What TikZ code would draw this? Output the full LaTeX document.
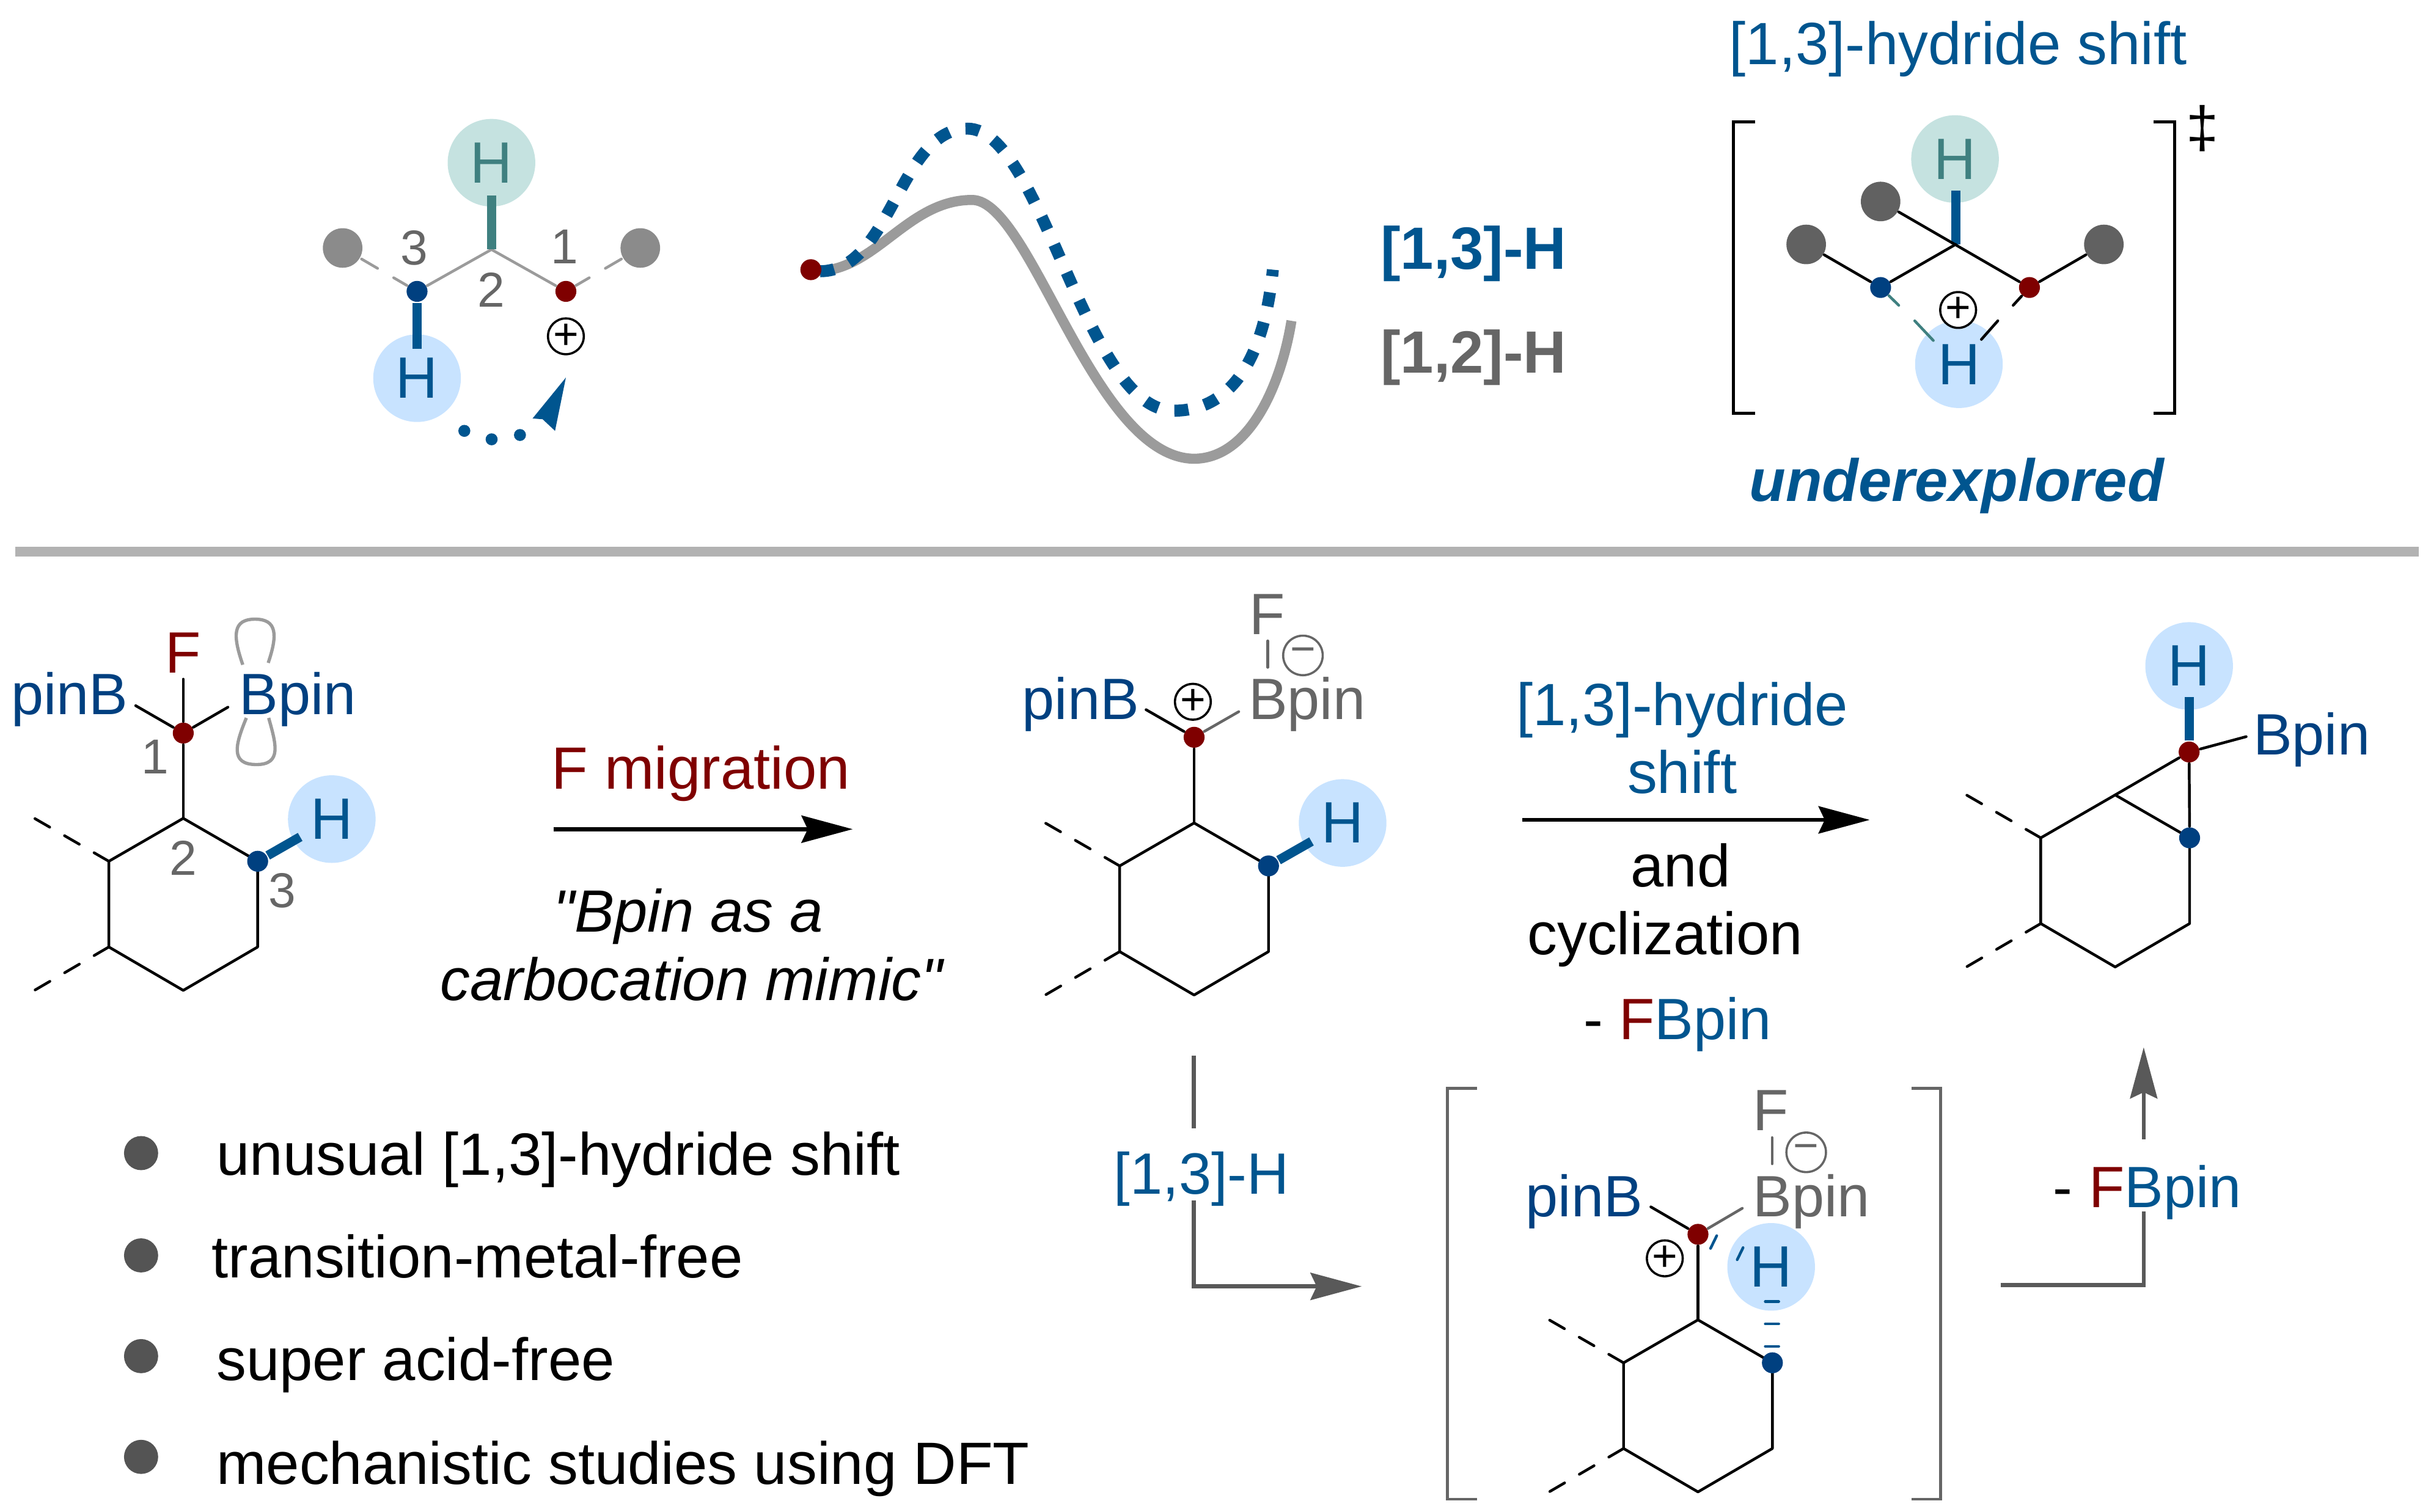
\documentclass[tikz,border=0pt]{standalone}
\usepackage{fontspec}
\setmainfont{Liberation Sans}[Ligatures=TeXOff]
\usetikzlibrary{calc,arrows.meta}
\definecolor{myblue}{HTML}{00558F}
\definecolor{mynavy}{HTML}{004080}
\definecolor{myred}{HTML}{7F0000}
\definecolor{myteal}{HTML}{3F8080}
\definecolor{mygray}{HTML}{666666}
\definecolor{softgray}{HTML}{9B9B9B}
\definecolor{bubbleblue}{HTML}{C8E3FF}
\definecolor{bubbleteal}{HTML}{C5E2E0}
\newcommand{\labfont}{\fontsize{10.95}{12}\selectfont}
\tikzset{
 bond/.style={line width=0.5pt,line cap=round,line join=round},
 dashbond/.style={bond,dash pattern=on 0.11cm off 0.11cm},
 thickbond/.style={line width=1.7pt},
 hatch/.style={line width=0.5pt,line cap=round,color=myblue},
 txt/.style={inner sep=0pt,anchor=base,yshift=-0.01cm},
 lab/.style={txt,font=\labfont},
 num/.style={inner sep=0pt,color=mygray,font=\fontsize{9}{9}\selectfont},
 atomred/.style={circle,fill=myred,inner sep=0pt,minimum size=0.135cm},
 atomblue/.style={circle,fill=mynavy,inner sep=0pt,minimum size=0.135cm},
 subst/.style={circle,inner sep=0pt,minimum size=0.255cm},
 bubble/.style={circle,inner sep=0pt,minimum size=0.565cm},
 hblue/.style={bubble,fill=bubbleblue,text=myblue},
 hteal/.style={bubble,fill=bubbleteal,text=myteal},
 charge/.style={circle,draw,fill=white,line width=0.4pt,inner sep=0pt,minimum size=0.23cm,font=\fontsize{8}{8}\selectfont},
 bullet/.style={circle,fill=black!67,inner sep=0pt,minimum size=0.22cm},
 rxnline/.style={line width=0.75pt,line join=miter},
 rxn/.style={rxnline,-{Stealth[length=0.33cm,width=0.175cm,inset=0.04cm]}},
 brak/.style={line width=0.55pt,line join=miter},
}
\newcommand{\ringbonds}[3]{
\coordinate (#1a) at (#2,#3); \coordinate (#1b) at (#2-48,#3+27.7); \coordinate (#1c) at (#2-48,#3+83);
\coordinate (#1d) at (#2,#3+111); \coordinate (#1e) at (#2+48,#3+83); \coordinate (#1f) at (#2+48,#3+27.7);
\coordinate (#1g) at (#2-96,#3); \coordinate (#1h) at (#2-96,#3+111);
\draw[bond] (#1a)--(#1b)--(#1c)--(#1d)--(#1e)--(#1f)--cycle;
\draw[dashbond] (#1b)--(#1g); \draw[dashbond] (#1c)--(#1h);
}
\begin{document}
\begin{tikzpicture}[x=0.01cm,y=-0.01cm,font=\fontsize{10.7}{12}\selectfont]
\useasboundingbox (0,0) rectangle (1568,975.5);
% top left
\node[hteal] (hTop) at (317,105) {H}; \node[hblue] (hLow) at (269,244) {H};
\coordinate (cMid) at (317,161);
\node[atomblue] (cBlue) at (269,188) {}; \node[atomred] (cRed) at (365,188) {};
\node[subst,fill=softgray!90!black] (sLeft) at (221,160) {}; \node[subst,fill=softgray!90!black] (sRight) at (413,160) {};
\draw[bond,color=softgray] (cBlue)--(cMid)--(cRed);
\draw[dashbond,color=softgray,dash pattern=on 0.1cm off 0.12cm on 0.12cm off 1cm] (cBlue)--(sLeft);
\draw[dashbond,color=softgray,dash pattern=on 0.1cm off 0.12cm on 0.12cm off 1cm] (cRed)--(sRight);
\draw[thickbond,color=myteal] (cMid)--(317,126);
\draw[thickbond,color=myblue] (cBlue)--(269,225);
\node[num] (nThree) at (267,160) {3}; \node[num] (nTwo) at (317,187) {2}; \node[num] (nOne) at (364,159) {1};
\node[charge] (plusTop) at (365,217) {+};
\coordinate (dotS) at (299.5,278); \coordinate (dotE) at (337,280);
\draw[color=myblue,line width=2.2pt,line cap=round,dash pattern=on 0pt off 5.3pt] (dotS) .. controls (310,285) and (326,285) .. (dotE);
\fill[myblue] (365,243.6)--(358,278)--(350,270.5)--(343.5,270)--cycle;
% energy curves
\draw[color=softgray,line width=1.85pt] (526,175) .. controls (565,175) and (585,129) .. (627,129) .. controls (665,129) and (705,295) .. (770,296) .. controls (805,296) and (826,250) .. (833,207);
\draw[color=myblue,line width=2.2pt,dash pattern=on 2.6pt off 3pt] (529,175) .. controls (575,175) and (580,83) .. (624,83) .. controls (672,83) and (700,265) .. (757,265) .. controls (792,265) and (815,235) .. (821,174);
\node[atomred] (curveStart) at (523,174) {};
\node[txt,color=myblue,font=\labfont\bfseries] (shiftA) at (950.5,172.5) {[1,3]-H};
\node[txt,color=mygray,font=\labfont\bfseries] (shiftB) at (950.5,239.5) {[1,2]-H};
% transition state
\node[lab,color=myblue] (tsTitle) at (1263,40.5) {[1,3]-hydride shift};
\draw[brak] (1132,78.5)--(1118,78.5)--(1118,266.7)--(1132,266.7); \draw[brak] (1389,78.5)--(1402.5,78.5)--(1402.5,266.7)--(1389,266.7);
\node[inner sep=0pt] (dagger) at (1420.5,83) {‡};
\node[hteal] (tsTop) at (1261,102.6) {H}; \node[hblue] (tsLow) at (1263.5,235) {H};
\coordinate (tsMid) at (1261.4,157.7);
\node[atomblue] (tsBlue) at (1213,185.5) {}; \node[atomred] (tsRed) at (1309,185.5) {};
\node[subst,fill=black!62] (tsA) at (1165,157.7) {}; \node[subst,fill=black!62] (tsB) at (1357,157.7) {}; \node[subst,fill=black!62] (tsC) at (1213,130) {};
\draw[thickbond,color=myblue] (tsMid)--(1261.4,123);
\draw[bond] (tsA)--(tsBlue)--(tsMid); \draw[bond] (tsC)--(tsRed)--(tsB);
\draw[bond,color=myteal] (tsBlue)--(1224.7,197); \draw[bond,color=myteal] (1235,207)--(1247,219.7);
\draw[bond] (tsRed)--(1298.5,197); \draw[bond] (1288.6,207)--(1278,219);
\node[charge] (plusTs) at (1263,200) {+};
\node[txt,color=myblue,font=\labfont\bfseries\itshape] (under) at (1262,322.5) {underexplored};
\draw[color=black!30,line width=1.8pt] (10,356)--(1560,356);
% substrate
\ringbonds{one}{118.2}{528}
\node[hblue] (hOne) at (214,528.5) {H};
\node[atomred] (oneRed) at (118.2,473) {}; \node[atomblue] (oneBlue) at (onef) {};
\draw[thickbond,color=myblue] (oneBlue)--(193.6,540);
\node[txt,color=myred] (fOne) at (118,433) {F};
\node[txt,color=mynavy] (pinOne) at (45,460) {pinB}; \node[txt,color=mynavy] (bpinOne) at (192,460) {Bpin};
\draw[bond] (oneRed)--(118.2,438.2); \draw[bond] (oneRed)--(87.5,455.3); \draw[bond] (oneRed)--(147,456.3); \draw[bond] (oneRed)--(onea);
\draw[color=softgray,line width=0.6pt] (156.6,428.9) .. controls (150,410) and (150,399.5) .. (164.5,399.5) .. controls (179,399.5) and (179,410) .. (173,427.7);
\draw[color=softgray,line width=0.6pt] (158.9,463.2) .. controls (152,480) and (148,493.3) .. (165.4,493.3) .. controls (182,493.3) and (178,480) .. (173.3,463.2);
\node[num] (nOneA) at (100,488.4) {1}; \node[num] (nOneB) at (118.2,553.5) {2}; \node[num] (nOneC) at (182,574.6) {3};
% first arrow
\node[lab,color=myred] (migr) at (452,508) {F migration};
\coordinate (arrAs) at (357,535); \coordinate (arrAe) at (550,535); \draw[rxn] (arrAs)--(arrAe);
\node[lab,font=\labfont\itshape] (mimicA) at (444,600.5) {"Bpin as a};
\node[lab,font=\labfont\itshape] (mimicB) at (446,644.5) {carbocation mimic"};
% cation
\ringbonds{two}{770.2}{531}
\node[hblue] (hTwo) at (866,531) {H};
\node[atomred] (twoRed) at (770.2,475.7) {}; \node[atomblue] (twoBlue) at (twof) {};
\draw[thickbond,color=myblue] (twoBlue)--(845.9,542.9);
\node[txt,color=mynavy] (pinTwo) at (697,463.2) {pinB}; \node[txt,color=mygray] (bpinTwo) at (843,463.2) {Bpin};
\node[txt,color=mygray] (fTwo) at (817.5,408.3) {F};
\draw[bond] (twoRed)--(twoa); \draw[bond] (twoRed)--(739.2,457.9); \draw[bond,color=mygray] (twoRed)--(799,459.2);
\draw[bond,color=mygray] (817.7,413.5)--(817.7,430.6);
\node[charge] (plusTwo) at (769.4,452.8) {+};
\node[charge,color=mygray,minimum size=0.255cm,fill=none] (minusTwo) at (840.4,422.9) {−};
% second arrow
\node[lab,color=myblue] (hydA) at (1085,467) {[1,3]-hydride}; \node[lab,color=myblue] (hydB) at (1085,511) {shift};
\coordinate (arrBs) at (982,529); \coordinate (arrBe) at (1206,529); \draw[rxn] (arrBs)--(arrBe);
\node[lab] (andText) at (1084,571) {and}; \node[lab] (cycText) at (1074,615) {cyclization};
\node[txt] (lossA) at (1082,669.5) {- {\color{myred}F}{\color{myblue}Bpin}};
% cyclopropane
\ringbonds{three}{1364.3}{512.9}
\node[hblue] (hThree) at (1412,429.7) {H};
\node[atomred] (threeRed) at (1412,485.2) {}; \node[atomblue] (threeBlue) at (threef) {};
\draw[thickbond,color=myblue] (threeRed)--(1412,449.6);
\draw[bond] (threeRed)--(threea); \draw[bond] (threeRed)--(threeBlue); \draw[bond] (threeRed)--(1448.8,475.3);
\node[txt,color=mynavy] (bpinThree) at (1491,486) {Bpin};
% lower path
\coordinate (arrCs) at (770,681); \coordinate (arrCu) at (770,728); \coordinate (arrCl) at (770,774.5); \coordinate (arrCm) at (770,830); \coordinate (arrCe) at (878.3,830);
\draw[rxnline,color=black!65] (arrCs)--(arrCu); \draw[rxn,color=black!65] (arrCl)--(arrCm)--(arrCe);
\node[txt,color=myblue] (lowH) at (775,769.3) {[1,3]-H};
\coordinate (arrDs) at (1290.5,829); \coordinate (arrDm) at (1382.7,829); \coordinate (arrDl) at (1382.7,781.5); \coordinate (arrDu) at (1382.7,735); \coordinate (arrDe) at (1382.7,675.7);
\draw[rxnline,color=black!65] (arrDs)--(arrDm)--(arrDl); \draw[rxn,color=black!65] (arrDu)--(arrDe);
\node[txt] (lossB) at (1385,778) {- {\color{myred}F}{\color{myblue}Bpin}};
% intermediate
\draw[brak,color=mygray] (952.7,702.2)--(933.6,702.2)--(933.6,967.3)--(952.7,967.3); \draw[brak,color=mygray] (1233,702.2)--(1251.7,702.2)--(1251.7,967.3)--(1233,967.3);
\ringbonds{four}{1095.2}{851.6}
\node[hblue] (hFour) at (1142.4,817.4) {H};
\node[atomred] (fourRed) at (1095.2,796.4) {}; \node[atomblue] (fourBlue) at (fourf) {};
\node[txt,color=mynavy] (pinFour) at (1021.8,784) {pinB}; \node[txt,color=mygray] (bpinFour) at (1168.5,784) {Bpin};
\node[txt,color=mygray] (fFour) at (1142.3,728.6) {F};
\draw[bond] (fourRed)--(foura); \draw[bond] (fourRed)--(1064.8,778.7); \draw[bond,color=mygray] (fourRed)--(1123.8,779.6);
\draw[bond,color=mygray] (1143,734)--(1143,750.9);
\draw[hatch] (1107.3,797.3)--(1103.3,805.5); \draw[hatch] (1124.3,805)--(1120.5,812.8);
\foreach \yy in {839.8,854.2,868.7} {\draw[hatch] (1138.6,\yy)--(1147.3,\yy);}
\node[charge] (plusFour) at (1073.8,811.9) {+};
\node[charge,color=mygray,minimum size=0.255cm,fill=none] (minusFour) at (1165,743.5) {−};
% bullet list
\node[bullet] (bA) at (91,744) {}; \node[lab,anchor=base west] (tA) at (139,757) {unusual [1,3]-hydride shift};
\node[bullet] (bB) at (91,810) {}; \node[lab,anchor=base west] (tB) at (136,823.5) {transition-metal-free};
\node[bullet] (bC) at (91,875) {}; \node[lab,anchor=base west] (tC) at (139,889.5) {super acid-free};
\node[bullet] (bD) at (91,940) {}; \node[lab,anchor=base west] (tD) at (139,956.5) {mechanistic studies using DFT};
\end{tikzpicture}
\end{document}
